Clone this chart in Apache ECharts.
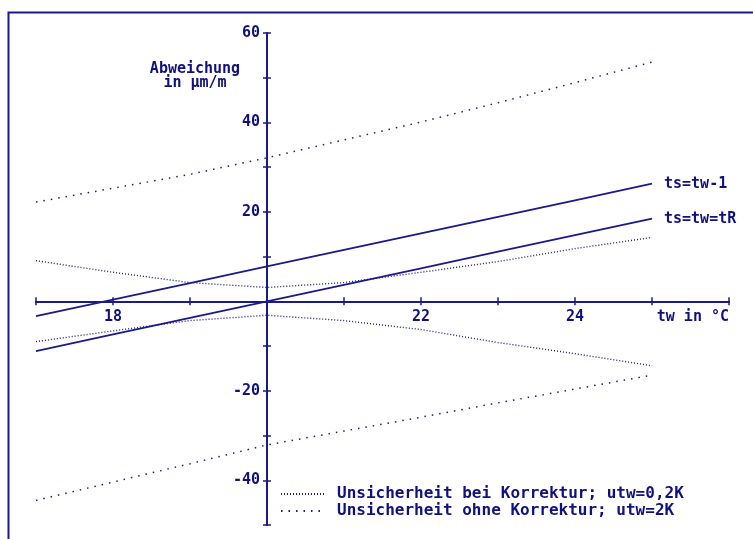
<!DOCTYPE html>
<html>
<head>
<meta charset="utf-8">
<script src="https://cdn.jsdelivr.net/npm/echarts@6/dist/echarts.min.js"></script>
<style>
  html, body { margin: 0; padding: 0; background: #fff; }
  #chart { width: 753px; height: 539px; }
</style>
</head>
<body>
<div id="chart"></div>
<script>
// Temperatur tw in °C
var tw = [17, 18, 19, 20, 21, 22, 23, 24, 25];
// Abweichung in µm/m
var tsTwMinus1 = [-3.3, 0.4, 4.1, 7.8, 11.5, 15.2, 18.9, 22.6, 26.3];
var tsTwTR = [-11.1, -7.4, -3.7, 0, 3.7, 7.4, 11.1, 14.8, 18.5];
// Unsicherheit bei Korrektur (utw=0,2K)
var korrOben = [9.1, 6.5, 4.2, 3.1, 4.2, 6.5, 8.9, 11.8, 14.3];
var korrUnten = [-9.0, -6.6, -4.3, -3.1, -4.3, -6.3, -9.2, -11.7, -14.4];
// Unsicherheit ohne Korrektur (utw=2K)
var ohneOben = [22.2, 25.3, 28.4, 32.1, 36.1, 40.1, 44.4, 48.9, 53.5];
var ohneUnten = [-44.5, -40.4, -36.3, -32.1, -29.0, -25.9, -22.7, -19.6, -16.5];
// Achsenbeschriftung
var xTickLabels = [18, 22, 24];
var xAxisTitle = 'tw in °C';
var yTickLabels = [60, 40, 20, -20, -40];

var navy = '#1a1a8a';
var textColor = '#10107e';
var font = 'DejaVu Sans Mono';

// Plotfläche: y von -50 bis 60, die tw-Achse liegt bei y = 0
var plotTop = 33, plotBottom = 14, plotH = 539 - plotTop - plotBottom;
var zeroY = plotTop + plotH * 60 / 110;

function pairs(ys) {
    return tw.map(function (x, i) { return [x, ys[i]]; });
}

var myChart = echarts.init(document.getElementById('chart'));

var solid = function (name, data) {
    return {
        name: name,
        type: 'line',
        xAxisIndex: 0,
        yAxisIndex: 0,
        data: pairs(data),
        symbol: 'none',
        color: navy,
        lineStyle: { color: navy, width: 1.8 },
        endLabel: {
            show: true,
            formatter: name,
            distance: 12,
            color: textColor,
            fontFamily: font,
            fontWeight: 'bold',
            fontSize: 15
        },
        silent: true,
        z: 3
    };
};

var dotted = function (name, data, dash, width) {
    return {
        name: name,
        type: 'line',
        xAxisIndex: 0,
        yAxisIndex: 0,
        data: pairs(data),
        symbol: 'none',
        color: navy,
        lineStyle: { color: navy, width: width, type: dash },
        silent: true,
        z: 2
    };
};

var legendKorr = 'Unsicherheit bei Korrektur; utw=0,2K';
var legendOhne = 'Unsicherheit ohne Korrektur; utw=2K';

var tickStyle = { color: navy, width: 1.5 };
var lineStyle = { color: navy, width: 2 };

var option = {
    animation: false,
    backgroundColor: '#fff',
    grid: [
        // 0: Kurven
        { left: 36, right: 24, top: plotTop, bottom: plotBottom },
        // 1: Abweichungsachse bei tw = 20
        { left: 267, right: 486, top: plotTop, bottom: plotBottom },
        // 2: obere Hälfte, unterer Rand = tw-Achse
        { left: 36, right: 24, top: plotTop, bottom: 539 - zeroY },
        // 3: untere Hälfte, oberer Rand = tw-Achse
        { left: 36, right: 24, top: zeroY, bottom: plotBottom }
    ],
    legend: {
        orient: 'vertical',
        left: 275,
        top: 481,
        itemWidth: 45,
        itemHeight: 10,
        itemGap: 1,
        itemStyle: { opacity: 0 },
        textStyle: {
            color: textColor,
            fontFamily: font,
            fontWeight: 'bold',
            fontSize: 16,
            padding: [0, 0, 0, 6]
        },
        data: [legendKorr, legendOhne]
    },
    graphic: [
        {
            type: 'rect',
            shape: { x: 8.5, y: 12.5, width: 760, height: 540 },
            style: { fill: 'none', stroke: navy, lineWidth: 2 },
            silent: true
        },
        {
            type: 'text',
            x: 195,
            y: 62,
            style: {
                text: 'Abweichung\nin µm/m',
                fill: textColor,
                font: 'bold 15px "DejaVu Sans Mono"',
                lineHeight: 14,
                align: 'center'
            }
        }
    ],
    xAxis: [{
        type: 'value', gridIndex: 0, show: false, min: 17, max: 26
    }, {
        type: 'value', gridIndex: 1, show: false, min: 0, max: 1
    }, {
        type: 'value',
        gridIndex: 2,
        position: 'bottom',
        min: 17,
        max: 26,
        interval: 1,
        axisLine: { onZero: false, lineStyle: lineStyle },
        axisTick: { inside: true, length: 4, lineStyle: tickStyle },
        axisLabel: { show: false },
        splitLine: { show: false }
    }, {
        type: 'value',
        gridIndex: 3,
        position: 'top',
        min: 17,
        max: 26,
        interval: 1,
        axisLine: { onZero: false, lineStyle: lineStyle },
        axisTick: { inside: true, length: 4, lineStyle: tickStyle },
        axisLabel: {
            inside: true,
            margin: 8,
            color: textColor,
            fontFamily: font,
            fontWeight: 'bold',
            fontSize: 15,
            showMaxLabel: true,
            alignMaxLabel: 'right',
            formatter: function (v) {
                if (v === 26) return xAxisTitle;
                return xTickLabels.indexOf(v) >= 0 ? String(v) : '';
            }
        },
        splitLine: { show: false }
    }],
    yAxis: [{
        type: 'value', gridIndex: 0, show: false, min: -50, max: 60, interval: 10
    }, {
        type: 'value',
        gridIndex: 1,
        position: 'left',
        min: -50,
        max: 60,
        interval: 10,
        axisLine: { show: true, onZero: false, lineStyle: lineStyle },
        axisTick: { show: true, inside: false, length: 4, lineStyle: tickStyle },
        axisLabel: {
            margin: 7,
            color: textColor,
            fontFamily: font,
            fontWeight: 'bold',
            fontSize: 15,
            formatter: function (v) {
                return yTickLabels.indexOf(v) >= 0 ? String(v) : '';
            }
        },
        splitLine: { show: false }
    }, {
        type: 'value',
        gridIndex: 1,
        position: 'right',
        min: -50,
        max: 60,
        interval: 10,
        axisLine: { show: true, onZero: false, lineStyle: lineStyle },
        axisTick: { show: true, inside: false, length: 4, lineStyle: tickStyle },
        axisLabel: { show: false },
        splitLine: { show: false }
    }, {
        type: 'value', gridIndex: 2, show: false, min: 0, max: 60
    }, {
        type: 'value', gridIndex: 3, show: false, min: -50, max: 0
    }],
    series: [
        solid('ts=tw-1', tsTwMinus1),
        solid('ts=tw=tR', tsTwTR),
        dotted(legendKorr, korrOben, [1, 2], 1.4),
        dotted(legendKorr, korrUnten, [1, 2], 1.4),
        dotted(legendOhne, ohneOben, [1.5, 6], 1.5),
        dotted(legendOhne, ohneUnten, [1.5, 6], 1.5)
    ]
};

myChart.setOption(option);
</script>
</body>
</html>
